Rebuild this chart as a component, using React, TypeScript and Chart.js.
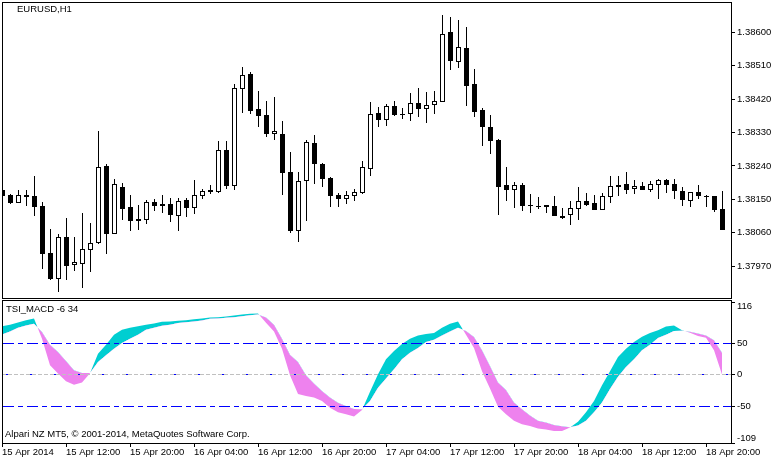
import { useEffect, useRef } from "react";
import { Chart } from "chart.js/auto";
import type { ChartConfiguration } from "chart.js/auto";

// EURUSD H1 candles, one hour per bar
const opens = [
  1.38175, 1.38161, 1.38141, 1.38161, 1.38159, 1.38132, 1.38005, 1.37934, 1.38048, 1.37972, 1.37975, 1.38013, 1.38032,
  1.3824, 1.38056, 1.38183, 1.38129, 1.38096, 1.38094, 1.38142, 1.38137, 1.38137, 1.38105, 1.38148, 1.38126, 1.38159,
  1.38175, 1.38169, 1.38283, 1.38186, 1.38447, 1.38488, 1.38393, 1.38377, 1.38326, 1.38326, 1.38223, 1.38064, 1.38199,
  1.38302, 1.38245, 1.38207, 1.38161, 1.3815, 1.38159, 1.38167, 1.38231, 1.38383, 1.38364, 1.38402, 1.3838, 1.3838,
  1.3841, 1.38393, 1.38404, 1.38412, 1.38601, 1.3852, 1.38558, 1.38461, 1.38391, 1.38345, 1.3831, 1.38188, 1.38175,
  1.38188, 1.38134, 1.38132, 1.38134, 1.38132, 1.38105, 1.38107, 1.38123, 1.38145, 1.3814, 1.38121, 1.38156, 1.38188,
  1.38191, 1.38177, 1.38186, 1.38175, 1.38188, 1.38202, 1.38191, 1.38172, 1.38145, 1.38169, 1.38159, 1.38159, 1.38123,
];
const closes = [
  1.38159, 1.3814, 1.38161, 1.38156, 1.38129, 1.38002, 1.37934, 1.38048, 1.3797, 1.3798, 1.38015, 1.38032, 1.38237,
  1.38056, 1.38191, 1.38123, 1.38091, 1.38091, 1.38142, 1.38132, 1.38132, 1.38107, 1.38145, 1.38126, 1.38161, 1.38172,
  1.38169, 1.38283, 1.38186, 1.3845, 1.38485, 1.38388, 1.38375, 1.38326, 1.38334, 1.38221, 1.38064, 1.38199, 1.38304,
  1.38245, 1.38204, 1.38159, 1.3815, 1.38161, 1.38169, 1.38237, 1.3838, 1.38364, 1.38402, 1.38377, 1.38377, 1.3841,
  1.38393, 1.38404, 1.38415, 1.38596, 1.38523, 1.38561, 1.38456, 1.38385, 1.38345, 1.38307, 1.38183, 1.38175, 1.38188,
  1.38132, 1.38132, 1.38129, 1.38129, 1.38105, 1.38099, 1.38126, 1.38145, 1.38134, 1.38121, 1.38159, 1.38186, 1.38183,
  1.38175, 1.38186, 1.38175, 1.38191, 1.38202, 1.38188, 1.38172, 1.38148, 1.38169, 1.38159, 1.38156, 1.38121, 1.38067,
];
const highs = [
  1.38175, 1.38164, 1.38175, 1.38175, 1.38213, 1.38142, 1.38069, 1.38056, 1.38099, 1.38048, 1.38113, 1.38086, 1.38334,
  1.38245, 1.38204, 1.38194, 1.38161, 1.38134, 1.38148, 1.3815, 1.38161, 1.38153, 1.38153, 1.38153, 1.38202, 1.38177,
  1.38188, 1.38307, 1.38307, 1.38461, 1.38507, 1.38493, 1.38442, 1.38415, 1.38426, 1.38361, 1.38277, 1.38223, 1.3831,
  1.38323, 1.38248, 1.3821, 1.38167, 1.38172, 1.38177, 1.38253, 1.38412, 1.38399, 1.38407, 1.38415, 1.38396, 1.38437,
  1.3845, 1.38439, 1.38442, 1.38647, 1.38642, 1.38634, 1.38615, 1.38501, 1.38396, 1.38377, 1.38312, 1.38237, 1.38196,
  1.38194, 1.38164, 1.38156, 1.38134, 1.38159, 1.38126, 1.38145, 1.38183, 1.38167, 1.38161, 1.38167, 1.38213, 1.38213,
  1.38223, 1.38202, 1.38196, 1.38199, 1.38204, 1.38204, 1.38204, 1.38183, 1.38169, 1.38188, 1.38161, 1.38159, 1.38172,
];
const lows = [
  1.38159, 1.38137, 1.38141, 1.38132, 1.38105, 1.37961, 1.37932, 1.37899, 1.37932, 1.37956, 1.3791, 1.37953, 1.38029,
  1.38002, 1.38056, 1.38094, 1.38064, 1.38067, 1.38083, 1.38118, 1.38113, 1.38088, 1.38064, 1.38102, 1.3811, 1.3815,
  1.38164, 1.38167, 1.38177, 1.38175, 1.38383, 1.3838, 1.38345, 1.38318, 1.3831, 1.38161, 1.38059, 1.38034, 1.38091,
  1.38191, 1.38183, 1.38129, 1.38129, 1.38137, 1.38145, 1.38164, 1.38213, 1.38345, 1.38348, 1.38375, 1.38366, 1.38361,
  1.38372, 1.38356, 1.3838, 1.38412, 1.38499, 1.38504, 1.38402, 1.38372, 1.38294, 1.38272, 1.38107, 1.38145, 1.38126,
  1.38118, 1.38113, 1.38123, 1.38113, 1.38105, 1.38096, 1.3808, 1.38094, 1.38132, 1.38121, 1.38121, 1.3814, 1.38159,
  1.38164, 1.38164, 1.38175, 1.38169, 1.3815, 1.38167, 1.3815, 1.38132, 1.38129, 1.3815, 1.38129, 1.38115, 1.38067,
];

// TSI_MACD ribbon: the MACD and signal values for the same bars
const macdValues = [
  77.5, 79.6, 83.3, 87.0, 89.7, 57.4, 15.1, 1.9, -10.3, -16.1, -12.4, 2.4, 33.6, 47.9, 63.7, 71.7, 74.9, 77.5, 79.6,
  81.7, 84.4, 84.9, 86.0, 87.0, 88.6, 89.7, 91.3, 91.8, 92.8, 94.4, 96.0, 97.1, 97.6, 82.8, 69.0, 41.5, -0.8, -30.9,
  -34.1, -36.2, -42.1, -52.6, -60.0, -63.2, -66.9, -56.3, -27.2, 0.8, 24.6, 37.8, 48.9, 57.4, 62.7, 64.8, 66.4, 74.9,
  81.2, 84.9, 63.7, 42.6, 5.6, -22.0, -51.0, -63.2, -73.3, -79.1, -81.7, -86.0, -87.5, -89.7, -89.7, -84.4, -74.9,
  -60.0, -42.1, -16.7, 5.6, 28.3, 41.5, 52.1, 60.6, 66.4, 71.1, 77.0, 78.6, 71.1, 66.9, 61.6, 59.0, 38.9, 0.3,
];
const signalValues = [
  64.3, 69.0, 74.9, 78.6, 81.2, 68.0, 47.9, 36.2, 22.0, 7.1, 2.9, 2.9, 20.4, 30.9, 41.5, 50.5, 57.4, 63.7, 71.7, 74.9,
  78.0, 79.6, 82.3, 83.8, 84.9, 86.5, 89.1, 89.7, 90.7, 91.8, 93.4, 94.9, 96.0, 91.3, 79.6, 57.4, 32.0, 20.4, -0.8,
  -14.0, -26.2, -36.2, -44.7, -50.0, -54.8, -55.3, -42.1, -20.9, -6.1, 8.7, 24.6, 35.2, 42.6, 52.1, 55.8, 62.7, 69.0,
  74.9, 69.6, 60.0, 38.9, 14.0, -12.4, -24.6, -44.2, -55.3, -65.3, -73.3, -76.4, -80.1, -82.3, -83.8, -81.2, -73.3,
  -60.0, -44.2, -23.0, -3.4, 12.4, 24.6, 38.9, 47.9, 58.5, 63.7, 69.6, 70.1, 68.5, 65.9, 62.7, 54.8, 35.2,
];

const timeLabels = [
  "15 Apr 2014",
  "15 Apr 12:00",
  "15 Apr 20:00",
  "16 Apr 04:00",
  "16 Apr 12:00",
  "16 Apr 20:00",
  "17 Apr 04:00",
  "17 Apr 12:00",
  "17 Apr 20:00",
  "18 Apr 04:00",
  "18 Apr 12:00",
  "18 Apr 20:00",
];
const barsPerLabel = 8;
const priceTicks = [1.386, 1.3851, 1.3842, 1.3833, 1.3824, 1.3815, 1.3806, 1.3797];
const indicatorTicks = [116, 50, 0, -50, -109];

const FONT = "'Liberation Sans', Arial, sans-serif";
const FONT_SIZE = 9.5;
const X_MAX = 91.125; // the frame runs a little past the last bar

// labels hanging over the pane ends must not push the chart area in
function fixAxisWidth(s: any) {
  s.width = 52;
  s.paddingTop = 0;
  s.paddingBottom = 0;
}

function fixAxisHeight(s: any) {
  s.height = 20;
  s.paddingLeft = 0;
  s.paddingRight = 0;
}

// keeps the marks on whole pixels and draws the pane frame and captions
function panePlugin(frameTopPad: number, captions: { text: string; x: number; y: number }[]) {
  return {
    id: "pane",
    beforeDatasetsDraw(chart: any) {
      chart.data.datasets.forEach((ds: any, i: number) => {
        const meta = chart.getDatasetMeta(i);
        if (ds.type === "bar") {
          meta.data.forEach((el: any) => {
            el.x = Math.round(el.x) + 0.5;
            el.y = Math.round(el.y);
            el.base = Math.round(el.base);
            if (el.y === el.base) el.base += 1;
          });
        }
        if (ds.levelLine) {
          meta.data.forEach((el: any) => {
            el.y = Math.floor(el.y) + 0.5;
          });
        }
      });
    },
    afterDraw(chart: any) {
      const { ctx, chartArea: a } = chart;
      ctx.save();
      ctx.strokeStyle = "#000";
      ctx.lineWidth = 1;
      const top = Math.floor(a.top) - frameTopPad + 0.5;
      const bottom = Math.floor(a.bottom) + 0.5;
      ctx.strokeRect(Math.floor(a.left) + 0.5, top, Math.floor(a.width), bottom - top);
      ctx.fillStyle = "#000";
      ctx.font = `${FONT_SIZE}px ${FONT}`;
      ctx.textBaseline = "middle";
      captions.forEach((c) => ctx.fillText(c.text, c.x, c.y));
      ctx.restore();
    },
  };
}

function PriceChart() {
  const canvasRef = useRef<HTMLCanvasElement>(null);

  useEffect(() => {
    if (!canvasRef.current) return;

    const config: ChartConfiguration = {
      type: "bar",
      data: {
        datasets: [
          {
            type: "bar",
            label: "Shadow",
            data: highs.map((h, i) => ({ x: i, y: [lows[i], h] })),
            backgroundColor: "#000",
            borderWidth: 0,
            inflateAmount: 0,
            grouped: false,
            barPercentage: 1,
            categoryPercentage: 1,
            maxBarThickness: 1,
            order: 2,
          },
          {
            type: "bar",
            label: "Body",
            data: opens.map((o, i) => ({ x: i, y: [o, closes[i]] })),
            backgroundColor: opens.map((o, i) => (closes[i] >= o ? "#fff" : "#000")),
            borderColor: "#000",
            borderWidth: 1,
            borderSkipped: false,
            inflateAmount: 0,
            grouped: false,
            barPercentage: 1,
            categoryPercentage: 1,
            maxBarThickness: 5,
            order: 1,
          },
        ] as any,
      },
      options: {
        responsive: false,
        animation: false,
        devicePixelRatio: 1,
        layout: { padding: { left: 2, top: 2, right: 0, bottom: 2 } },
        plugins: { legend: { display: false }, tooltip: { enabled: false } },
        scales: {
          x: { type: "linear", display: false, min: 0, max: X_MAX, offset: false },
          y: {
            position: "right",
            min: 1.37884,
            max: 1.38682,
            afterFit: fixAxisWidth,
            afterBuildTicks: (s: any) => {
              s.ticks = priceTicks.map((value) => ({ value }));
            },
            grid: { drawOnChartArea: false, tickLength: 4, tickColor: "#000" },
            border: { display: false },
            ticks: {
              color: "#000",
              padding: 2,
              font: { family: FONT, size: FONT_SIZE },
              callback: (v: any) => Number(v).toFixed(5),
            },
          },
        },
      },
      plugins: [panePlugin(0, [{ text: "EURUSD,H1", x: 17, y: 9.5 }])],
    };

    const chart = new Chart(canvasRef.current, config);
    return () => chart.destroy();
  }, []);

  return <canvas ref={canvasRef} width={783} height={300} style={{ position: "absolute", left: 0, top: 0 }} />;
}

function levelLine(value: number, color: string, dash: number[], dashOffset: number) {
  return {
    type: "line",
    levelLine: true,
    data: [
      { x: 0, y: value },
      { x: X_MAX, y: value },
    ],
    borderColor: color,
    borderWidth: 1,
    borderDash: dash,
    borderDashOffset: dashOffset,
    pointRadius: 0,
    fill: false,
    order: 0,
  };
}

function IndicatorChart() {
  const canvasRef = useRef<HTMLCanvasElement>(null);

  useEffect(() => {
    if (!canvasRef.current) return;

    const config: ChartConfiguration = {
      type: "line",
      data: {
        datasets: [
          {
            label: "MACD",
            data: macdValues.map((y, x) => ({ x, y })),
            borderWidth: 0,
            pointRadius: 0,
            tension: 0,
            fill: { target: "+1", above: "#00CED1", below: "#EE82EE" },
            order: 1,
          },
          {
            label: "Signal",
            data: signalValues.map((y, x) => ({ x, y })),
            borderWidth: 0,
            pointRadius: 0,
            tension: 0,
            fill: false,
            order: 2,
          },
          levelLine(50, "#0000FF", [11, 4, 5, 4], 23),
          levelLine(0, "#C0C0C0", [4, 2], 0),
          levelLine(0, "#0000FF", [3, 21], 21),
          levelLine(-50, "#0000FF", [11, 4, 5, 4], 23),
        ] as any,
      },
      options: {
        responsive: false,
        animation: false,
        devicePixelRatio: 1,
        layout: { padding: { left: 2, top: 2, right: 0, bottom: 0 } },
        plugins: { legend: { display: false }, tooltip: { enabled: false } },
        scales: {
          x: {
            type: "linear",
            min: 0,
            max: X_MAX,
            offset: false,
            afterFit: fixAxisHeight,
            afterBuildTicks: (s: any) => {
              s.ticks = timeLabels.map((_, i) => ({ value: i * barsPerLabel }));
            },
            grid: { drawOnChartArea: false, tickLength: 4, tickColor: "#000" },
            border: { display: false },
            ticks: {
              color: "#000",
              padding: 0,
              align: "start",
              autoSkip: false,
              maxRotation: 0,
              font: { family: FONT, size: FONT_SIZE },
              callback: (v: any) => timeLabels[Number(v) / barsPerLabel],
            },
          },
          y: {
            position: "right",
            min: -109,
            max: 116,
            afterFit: fixAxisWidth,
            afterBuildTicks: (s: any) => {
              s.ticks = indicatorTicks.map((value) => ({ value }));
            },
            grid: { drawOnChartArea: false, tickLength: 4, tickColor: "#000" },
            border: { display: false },
            ticks: {
              color: "#000",
              padding: 2,
              font: { family: FONT, size: FONT_SIZE, lineHeight: "9px" },
              // the end labels sit inside the pane, half a line away from their ticks
              callback: (v: any) => {
                if (v === 116) return ["", "116"];
                if (v === -109) return ["-109", ""];
                return String(v);
              },
            },
          },
        },
      },
      plugins: [
        panePlugin(2, [
          { text: "TSI_MACD -6 34", x: 6, y: 9.5 },
          { text: "Alpari NZ MT5, © 2001-2014, MetaQuotes Software Corp.", x: 5, y: 134.5 },
        ]),
      ],
    };

    const chart = new Chart(canvasRef.current, config);
    return () => chart.destroy();
  }, []);

  return <canvas ref={canvasRef} width={783} height={163} style={{ position: "absolute", left: 0, top: 300 }} />;
}

export default function App() {
  return (
    <div style={{ position: "absolute", left: 0, top: 0, width: 783, height: 463, background: "#fff" }}>
      <PriceChart />
      <IndicatorChart />
    </div>
  );
}
